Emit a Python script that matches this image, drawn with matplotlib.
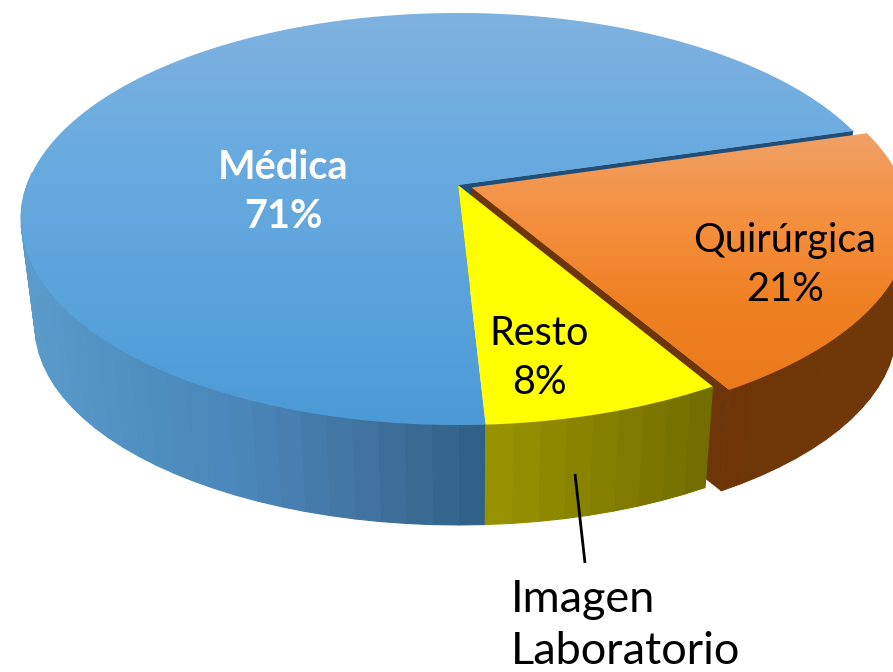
import numpy as np
import matplotlib
matplotlib.use("Agg")
import matplotlib.pyplot as plt
from matplotlib.patches import Polygon
from matplotlib.colors import LinearSegmentedColormap

## data
categories = ["Quirúrgica", "Resto", "Médica"]
shares = [21.1, 7.6, 71.3]          # slice sizes as measured on the picture
shown = ["21%", "8%", "71%"]
label_bold = [False, False, True]
label_colors = ["black", "black", "white"]
note_lines = ["Imagen", "Laboratorio"]

## look of the pie, all in pixels of the 893x672 picture
start_angle = 16.4
explode = [0.034, 0.0, 0.0]
apex = (458, 185)
a, b, k = 431.0, 200.4, 0.165      # disc -> screen perspective
vp = (470, 3650)                   # vanishing point of the walls
wall_scale = 0.969

top_colors = [["#f0a066", "#f4903f", "#ef8022", "#eb7a1c"],
              ["#ffff00", "#ffff00"],
              ["#7fb2e0", "#6aabdf", "#5ba3dc", "#4b9ad5"]]
side_colors = [["#6f3507", "#703808"],
               ["#9a9400", "#726c00"],
               ["#5a9bcb", "#4f8fc0", "#4a85b8", "#40729f", "#2e5f85"]]
cut_colors = ["#6e3508", None, "#1f4e79"]
label_pos = [(785, 265), (539, 358), (283, 192)]


def project(u, v):
    w = 1 + k * v
    return apex[0] + a * u / w, apex[1] - b * v / w


def drop(x, y):
    return vp[0] + wall_scale * (x - vp[0]), vp[1] + wall_scale * (y - vp[1])


def gradient_fill(ax, pts, colors, zorder):
    cmap = LinearSegmentedColormap.from_list("g", colors)
    ymin, ymax = pts[:, 1].min(), pts[:, 1].max()
    grad = np.linspace(0, 1, 256).reshape(-1, 1)
    im = ax.imshow(grad, cmap=cmap, aspect="auto", zorder=zorder,
                   extent=(pts[:, 0].min(), pts[:, 0].max(), ymax, ymin))
    poly = Polygon(pts, closed=True, transform=ax.transData, fc="none", ec="none")
    ax.add_patch(poly)
    im.set_clip_path(poly)


fig = plt.figure(figsize=(8.93, 6.72), dpi=100)
ax = fig.add_axes([0, 0, 1, 1])
ax.axis("off")

angles = [start_angle]
for s in shares:
    angles.append(angles[-1] - s * 3.6)

# blue first, then orange, yellow lies on top of the wall of the orange one
order = [2, 0, 1]
z = 1
for i in order:
    th = np.radians(np.linspace(angles[i], angles[i + 1], max(int(shares[i] * 3.6 / 3), 2) + 1))
    mid = np.radians((angles[i] + angles[i + 1]) / 2)
    du, dv = explode[i] * np.cos(mid), explode[i] * np.sin(mid)

    x_rim, y_rim = project(np.cos(th) + du, np.sin(th) + dv)
    x_c, y_c = project(du, dv)
    xb_rim, yb_rim = drop(x_rim, y_rim)
    xb_c, yb_c = drop(x_c, y_c)

    # cut face at the clockwise end of the slice
    if cut_colors[i]:
        face = [(x_c, y_c), (x_rim[-1], y_rim[-1]), (xb_rim[-1], yb_rim[-1]), (xb_c, yb_c)]
        ax.add_patch(Polygon(face, closed=True, fc=cut_colors[i], ec=cut_colors[i], lw=0.3, zorder=z))
    z += 1

    # outer wall in strips, coloured by where the strip sits left to right
    cmap = LinearSegmentedColormap.from_list("s", side_colors[i])
    xm = (x_rim[:-1] + x_rim[1:]) / 2
    lo, hi = x_rim.min(), x_rim[0] if i == 2 else x_rim.max()
    for n in range(len(th) - 1):
        if np.sin(th[n]) > 0.05 and np.sin(th[n + 1]) > 0.05:
            continue  # back of the pie, hidden by the top
        t = np.clip((xm[n] - lo) / (hi - lo), 0, 1)
        quad = [(x_rim[n], y_rim[n]), (x_rim[n + 1], y_rim[n + 1]),
                (xb_rim[n + 1], yb_rim[n + 1]), (xb_rim[n], yb_rim[n])]
        c = cmap(t)
        ax.add_patch(Polygon(quad, closed=True, fc=c, ec=c, lw=0.8, zorder=z))
    z += 1

    # top face
    fine = np.radians(np.linspace(angles[i], angles[i + 1], 300))
    xt, yt = project(np.cos(fine) + du, np.sin(fine) + dv)
    pts = np.column_stack([np.r_[x_c, xt], np.r_[y_c, yt]])
    gradient_fill(ax, pts, top_colors[i], z)
    z += 1

for name, s, pos, bold, col in zip(categories, shown, label_pos, label_bold, label_colors):
    ax.text(pos[0], pos[1], f"{name}\n{s}", ha="center", va="center", fontsize=28.5,
            family="Lato", color=col, fontweight="bold" if bold else "normal",
            linespacing=1.43, zorder=z)

ax.plot([575, 585], [474, 563], color="black", lw=2, solid_capstyle="butt", zorder=z)
ax.text(511, 599, note_lines[0], ha="left", va="center", fontsize=32.5, family="Lato", zorder=z)
ax.text(511, 652, note_lines[1], ha="left", va="center", fontsize=32.5, family="Lato", zorder=z)

ax.set_xlim(0, 893)
ax.set_ylim(672, 0)
fig.savefig("out.png", dpi=100)
